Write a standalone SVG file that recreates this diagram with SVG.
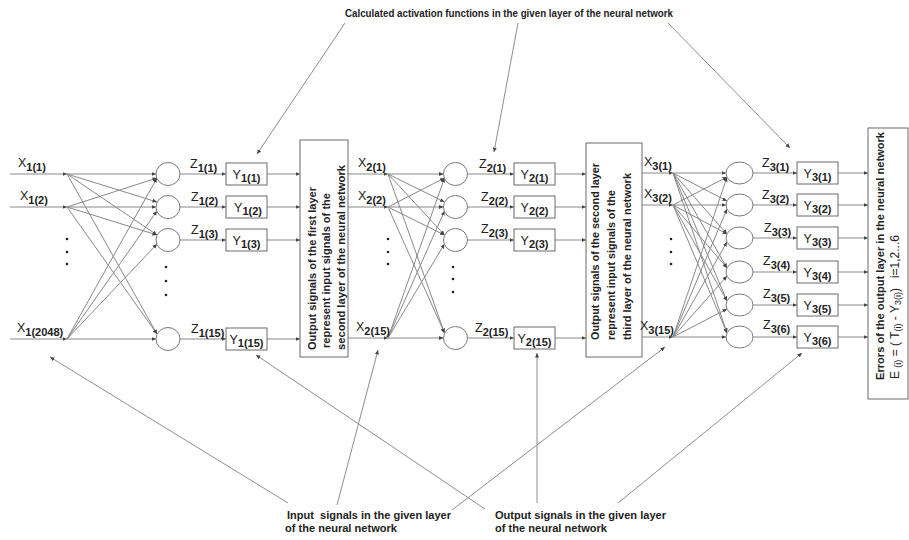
<svg xmlns="http://www.w3.org/2000/svg" width="909" height="540" viewBox="0 0 909 540">
<defs>
<marker id="ah" viewBox="0 0 6 6" refX="6" refY="3" markerWidth="4.5" markerHeight="4.5" orient="auto" markerUnits="userSpaceOnUse"><path d="M0,0.3 L6,3 L0,5.7 z" fill="#444"/></marker>
<style>
.ln{stroke:#888;stroke-width:1;fill:none;marker-end:url(#ah)}
.ld{stroke:#8e8e8e;stroke-width:1;fill:none;marker-end:url(#ah)}
.box{fill:#fff;stroke:#6a6a6a;stroke-width:1}
.nd{fill:#fff;stroke:#7a7a7a;stroke-width:1}
.lbl{font-family:"Liberation Sans",Arial,sans-serif;font-size:12.5px;fill:#222}
.sub{font-size:11px;font-weight:bold}
.ym{text-anchor:middle}
.desc{font-family:"Liberation Sans",Arial,sans-serif;font-size:11px;font-weight:bold;fill:#222}
.ttl{font-family:"Liberation Sans",Arial,sans-serif;font-size:11px;font-weight:bold;fill:#222}
.eq{font-family:"Liberation Sans",Arial,sans-serif;font-size:12px;fill:#222}
.es{font-size:9px}
.dot{fill:#222}
</style>
</defs>
<rect width="909" height="540" fill="#fff"/>

<g id="connectors">
<line class="ln" x1="10" y1="174" x2="67" y2="174"/>
<line class="ln" x1="10" y1="207" x2="67" y2="207"/>
<line class="ln" x1="10" y1="339" x2="67" y2="339"/>
<line class="ln" x1="67" y1="174" x2="156" y2="174"/>
<line class="ln" x1="67" y1="207" x2="156" y2="207"/>
<line class="ln" x1="67" y1="339" x2="156" y2="339"/>
<line class="ln" x1="67" y1="174" x2="157" y2="202"/>
<line class="ln" x1="67" y1="174" x2="157" y2="235"/>
<line class="ln" x1="67" y1="174" x2="157" y2="334"/>
<line class="ln" x1="67" y1="207" x2="157" y2="178"/>
<line class="ln" x1="67" y1="207" x2="157" y2="235"/>
<line class="ln" x1="67" y1="207" x2="157" y2="334"/>
<line class="ln" x1="67" y1="339" x2="157" y2="178"/>
<line class="ln" x1="67" y1="339" x2="157" y2="211"/>
<line class="ln" x1="67" y1="339" x2="157" y2="244"/>
<line class="ln" x1="180" y1="174" x2="226" y2="174"/>
<line class="ln" x1="180" y1="207" x2="226" y2="207"/>
<line class="ln" x1="180" y1="240" x2="226" y2="240"/>
<line class="ln" x1="180" y1="339" x2="226" y2="339"/>
<line class="ln" x1="267" y1="174" x2="300" y2="174"/>
<line class="ln" x1="267" y1="207" x2="300" y2="207"/>
<line class="ln" x1="267" y1="240" x2="300" y2="240"/>
<line class="ln" x1="267" y1="339" x2="300" y2="339"/>
<line class="ln" x1="348" y1="174" x2="388" y2="174"/>
<line class="ln" x1="348" y1="207" x2="388" y2="207"/>
<line class="ln" x1="348" y1="338" x2="388" y2="338"/>
<line class="ln" x1="388" y1="174" x2="443.5" y2="174"/>
<line class="ln" x1="388" y1="207" x2="443.5" y2="207"/>
<line class="ln" x1="388" y1="338" x2="443.5" y2="338"/>
<line class="ln" x1="388" y1="174" x2="444.5" y2="202"/>
<line class="ln" x1="388" y1="174" x2="444.5" y2="235"/>
<line class="ln" x1="388" y1="174" x2="444.5" y2="333"/>
<line class="ln" x1="388" y1="207" x2="444.5" y2="178"/>
<line class="ln" x1="388" y1="207" x2="444.5" y2="235"/>
<line class="ln" x1="388" y1="207" x2="444.5" y2="333"/>
<line class="ln" x1="388" y1="338" x2="444.5" y2="178"/>
<line class="ln" x1="388" y1="338" x2="444.5" y2="211"/>
<line class="ln" x1="388" y1="338" x2="444.5" y2="244"/>
<line class="ln" x1="467.5" y1="174" x2="514" y2="174"/>
<line class="ln" x1="467.5" y1="207" x2="514" y2="207"/>
<line class="ln" x1="467.5" y1="240" x2="514" y2="240"/>
<line class="ln" x1="467.5" y1="338" x2="514" y2="338"/>
<line class="ln" x1="555" y1="174" x2="586" y2="174"/>
<line class="ln" x1="555" y1="207" x2="586" y2="207"/>
<line class="ln" x1="555" y1="240" x2="586" y2="240"/>
<line class="ln" x1="555" y1="338" x2="586" y2="338"/>
<line class="ln" x1="642" y1="173" x2="673" y2="173"/>
<line class="ln" x1="642" y1="205" x2="673" y2="205"/>
<line class="ln" x1="642" y1="337" x2="673" y2="337"/>
<line class="ln" x1="673" y1="173" x2="726" y2="173"/>
<line class="ln" x1="673" y1="205" x2="726" y2="205"/>
<line class="ln" x1="673" y1="337" x2="726" y2="337"/>
<line class="ln" x1="673" y1="173" x2="727" y2="201"/>
<line class="ln" x1="673" y1="173" x2="727" y2="234"/>
<line class="ln" x1="673" y1="173" x2="727" y2="268"/>
<line class="ln" x1="673" y1="173" x2="727" y2="301"/>
<line class="ln" x1="673" y1="173" x2="727" y2="333"/>
<line class="ln" x1="673" y1="205" x2="727" y2="177"/>
<line class="ln" x1="673" y1="205" x2="727" y2="234"/>
<line class="ln" x1="673" y1="205" x2="727" y2="268"/>
<line class="ln" x1="673" y1="205" x2="727" y2="301"/>
<line class="ln" x1="673" y1="205" x2="727" y2="333"/>
<line class="ln" x1="673" y1="337" x2="727" y2="177"/>
<line class="ln" x1="673" y1="337" x2="727" y2="209"/>
<line class="ln" x1="673" y1="337" x2="727" y2="242"/>
<line class="ln" x1="673" y1="337" x2="727" y2="276"/>
<line class="ln" x1="673" y1="337" x2="727" y2="309"/>
<line class="ln" x1="753" y1="173" x2="797" y2="173"/>
<line class="ln" x1="753" y1="205" x2="797" y2="205"/>
<line class="ln" x1="753" y1="238" x2="797" y2="238"/>
<line class="ln" x1="753" y1="272" x2="797" y2="272"/>
<line class="ln" x1="753" y1="305" x2="797" y2="305"/>
<line class="ln" x1="753" y1="337" x2="797" y2="337"/>
<line class="ln" x1="838" y1="173" x2="868" y2="173"/>
<line class="ln" x1="838" y1="205" x2="868" y2="205"/>
<line class="ln" x1="838" y1="238" x2="868" y2="238"/>
<line class="ln" x1="838" y1="272" x2="868" y2="272"/>
<line class="ln" x1="838" y1="305" x2="868" y2="305"/>
<line class="ln" x1="838" y1="337" x2="868" y2="337"/>
<line class="ld" x1="345" y1="23" x2="257" y2="154"/>
<line class="ld" x1="518" y1="23" x2="494" y2="152"/>
<line class="ld" x1="668" y1="23" x2="790" y2="148"/>
<line class="ld" x1="288" y1="503" x2="50" y2="357"/>
<line class="ld" x1="337" y1="505" x2="378" y2="350"/>
<line class="ld" x1="452" y1="510" x2="665" y2="347"/>
<line class="ld" x1="485" y1="509" x2="256" y2="355"/>
<line class="ld" x1="537" y1="503" x2="537" y2="353"/>
<line class="ld" x1="618" y1="503" x2="802" y2="353"/>
</g>

<g id="dots">
<circle class="dot" cx="67" cy="239" r="1.3"/><circle class="dot" cx="67" cy="252" r="1.3"/><circle class="dot" cx="67" cy="264" r="1.3"/>
<circle class="dot" cx="166" cy="267" r="1.3"/><circle class="dot" cx="166" cy="281" r="1.3"/><circle class="dot" cx="166" cy="295" r="1.3"/>
<circle class="dot" cx="388" cy="239" r="1.3"/><circle class="dot" cx="388" cy="252" r="1.3"/><circle class="dot" cx="388" cy="264" r="1.3"/>
<circle class="dot" cx="453" cy="267" r="1.3"/><circle class="dot" cx="453" cy="279" r="1.3"/><circle class="dot" cx="453" cy="292" r="1.3"/>
<circle class="dot" cx="671" cy="239" r="1.3"/><circle class="dot" cx="671" cy="252" r="1.3"/><circle class="dot" cx="671" cy="264" r="1.3"/>
</g>

<g id="x1_1"><text class="lbl" x="18" y="167">X<tspan class="sub" dy="4">1(1)</tspan></text></g>
<g id="x1_2"><text class="lbl" x="20" y="200">X<tspan class="sub" dy="4">1(2)</tspan></text></g>
<g id="x1_2048"><text class="lbl" x="17" y="332">X<tspan class="sub" dy="4">1(2048)</tspan></text></g>

<g id="n1_1"><ellipse class="nd" cx="168" cy="174" rx="12" ry="11.5"/></g>
<g id="n1_2"><ellipse class="nd" cx="168" cy="207" rx="12" ry="11.5"/></g>
<g id="n1_3"><ellipse class="nd" cx="168" cy="240" rx="12" ry="11.5"/></g>
<g id="n1_15"><ellipse class="nd" cx="168" cy="339" rx="12" ry="11.5"/></g>
<g id="z1"><text class="lbl" x="190" y="168">Z<tspan class="sub" dy="4">1(1)</tspan></text>
<text class="lbl" x="191" y="201">Z<tspan class="sub" dy="4">1(2)</tspan></text>
<text class="lbl" x="191" y="234">Z<tspan class="sub" dy="4">1(3)</tspan></text>
<text class="lbl" x="191" y="333">Z<tspan class="sub" dy="4">1(15)</tspan></text></g>
<g id="y1_1"><rect class="box" x="226" y="163" width="41" height="22"/><text class="lbl ym" x="246.5" y="178.5">Y<tspan class="sub" dy="3.5">1(1)</tspan></text></g>
<g id="y1_2"><rect class="box" x="226" y="196" width="41" height="22"/><text class="lbl ym" x="248" y="211.5">Y<tspan class="sub" dy="3.5">1(2)</tspan></text></g>
<g id="y1_3"><rect class="box" x="226" y="229" width="41" height="22"/><text class="lbl ym" x="246.5" y="244.5">Y<tspan class="sub" dy="3.5">1(3)</tspan></text></g>
<g id="y1_15"><rect class="box" x="226" y="328" width="41" height="22"/><text class="lbl ym" x="246.5" y="343.5">Y<tspan class="sub" dy="3.5">1(15)</tspan></text></g>

<g id="rect1"><rect class="box" x="300" y="140" width="48" height="217"/>
<text class="desc" transform="translate(315.5,350) rotate(-90)" textLength="163" lengthAdjust="spacingAndGlyphs">Output signals of the first layer</text>
<text class="desc" transform="translate(330,348) rotate(-90)" textLength="155" lengthAdjust="spacingAndGlyphs">represent input signals of the</text>
<text class="desc" transform="translate(344.5,350) rotate(-90)" textLength="185" lengthAdjust="spacingAndGlyphs">second layer of the neural network</text></g>

<g id="x2"><text class="lbl" x="358" y="167">X<tspan class="sub" dy="4">2(1)</tspan></text>
<text class="lbl" x="358" y="200">X<tspan class="sub" dy="4">2(2)</tspan></text>
<text class="lbl" x="356" y="331">X<tspan class="sub" dy="4">2(15)</tspan></text></g>
<g id="n2_1"><ellipse class="nd" cx="455.5" cy="174" rx="12" ry="11.5"/></g>
<g id="n2_2"><ellipse class="nd" cx="455.5" cy="207" rx="12" ry="11.5"/></g>
<g id="n2_3"><ellipse class="nd" cx="455.5" cy="240" rx="12" ry="11.5"/></g>
<g id="n2_15"><ellipse class="nd" cx="455.5" cy="338" rx="12" ry="11.5"/></g>
<g id="z2"><text class="lbl" x="479" y="168">Z<tspan class="sub" dy="4">2(1)</tspan></text>
<text class="lbl" x="481" y="201">Z<tspan class="sub" dy="4">2(2)</tspan></text>
<text class="lbl" x="481" y="233">Z<tspan class="sub" dy="4">2(3)</tspan></text>
<text class="lbl" x="475" y="332">Z<tspan class="sub" dy="4">2(15)</tspan></text></g>
<g id="y2_1"><rect class="box" x="514" y="163" width="41" height="22"/><text class="lbl ym" x="534.5" y="178.5">Y<tspan class="sub" dy="3.5">2(1)</tspan></text></g>
<g id="y2_2"><rect class="box" x="514" y="196" width="41" height="22"/><text class="lbl ym" x="534.5" y="211.5">Y<tspan class="sub" dy="3.5">2(2)</tspan></text></g>
<g id="y2_3"><rect class="box" x="514" y="229" width="41" height="22"/><text class="lbl ym" x="534.5" y="244.5">Y<tspan class="sub" dy="3.5">2(3)</tspan></text></g>
<g id="y2_15"><rect class="box" x="514" y="327" width="41" height="22"/><text class="lbl ym" x="534.5" y="342.5">Y<tspan class="sub" dy="3.5">2(15)</tspan></text></g>

<g id="rect2"><rect class="box" x="586" y="143" width="56" height="214"/>
<text class="desc" transform="translate(599,340) rotate(-90)" textLength="177" lengthAdjust="spacingAndGlyphs">Output signals of the second layer</text>
<text class="desc" transform="translate(615,340) rotate(-90)" textLength="150" lengthAdjust="spacingAndGlyphs">represent input signals of the</text>
<text class="desc" transform="translate(630.5,340) rotate(-90)" textLength="167" lengthAdjust="spacingAndGlyphs">third layer of the neural network</text></g>

<g id="x3"><text class="lbl" x="644" y="166">X<tspan class="sub" dy="4">3(1)</tspan></text>
<text class="lbl" x="644" y="198">X<tspan class="sub" dy="4">3(2)</tspan></text>
<text class="lbl" x="640" y="330">X<tspan class="sub" dy="4">3(15)</tspan></text></g>
<g id="n3_1"><ellipse class="nd" cx="739.5" cy="173" rx="13.5" ry="11"/></g>
<g id="n3_2"><ellipse class="nd" cx="739.5" cy="205" rx="13.5" ry="11"/></g>
<g id="n3_3"><ellipse class="nd" cx="739.5" cy="238" rx="13.5" ry="11"/></g>
<g id="n3_4"><ellipse class="nd" cx="739.5" cy="272" rx="13.5" ry="11"/></g>
<g id="n3_5"><ellipse class="nd" cx="739.5" cy="305" rx="13.5" ry="11"/></g>
<g id="n3_6"><ellipse class="nd" cx="739.5" cy="337" rx="13.5" ry="11"/></g>
<g id="z3"><text class="lbl" x="762" y="167">Z<tspan class="sub" dy="4">3(1)</tspan></text>
<text class="lbl" x="762" y="199">Z<tspan class="sub" dy="4">3(2)</tspan></text>
<text class="lbl" x="764" y="232">Z<tspan class="sub" dy="4">3(3)</tspan></text>
<text class="lbl" x="763" y="265">Z<tspan class="sub" dy="4">3(4)</tspan></text>
<text class="lbl" x="763" y="298">Z<tspan class="sub" dy="4">3(5)</tspan></text>
<text class="lbl" x="763" y="329">Z<tspan class="sub" dy="4">3(6)</tspan></text></g>
<g id="y3_1"><rect class="box" x="797" y="162" width="41" height="22"/><text class="lbl ym" x="817.5" y="177.5">Y<tspan class="sub" dy="3.5">3(1)</tspan></text></g>
<g id="y3_2"><rect class="box" x="797" y="194" width="41" height="22"/><text class="lbl ym" x="817.5" y="209.5">Y<tspan class="sub" dy="3.5">3(2)</tspan></text></g>
<g id="y3_3"><rect class="box" x="797" y="227" width="41" height="22"/><text class="lbl ym" x="817.5" y="242.5">Y<tspan class="sub" dy="3.5">3(3)</tspan></text></g>
<g id="y3_4"><rect class="box" x="797" y="261" width="41" height="22"/><text class="lbl ym" x="817.5" y="276.5">Y<tspan class="sub" dy="3.5">3(4)</tspan></text></g>
<g id="y3_5"><rect class="box" x="797" y="294" width="41" height="22"/><text class="lbl ym" x="817.5" y="309.5">Y<tspan class="sub" dy="3.5">3(5)</tspan></text></g>
<g id="y3_6"><rect class="box" x="797" y="326" width="41" height="22"/><text class="lbl ym" x="817.5" y="341.5">Y<tspan class="sub" dy="3.5">3(6)</tspan></text></g>

<g id="errors"><rect class="box" x="868" y="128" width="40" height="271"/>
<text class="desc" transform="translate(883.5,380) rotate(-90)" textLength="248" lengthAdjust="spacingAndGlyphs">Errors of the output layer in the neural network</text>
<text class="eq" transform="translate(899,379) rotate(-90)" xml:space="preserve">E <tspan class="es" dy="2">(i)</tspan><tspan dy="-2"> = ( T</tspan><tspan class="es" dy="2">(i)</tspan><tspan dy="-2"> - Y</tspan><tspan class="es" dy="2">3(i)</tspan><tspan dy="-2">)   i=1,2...6</tspan></text></g>

<g id="annotations">
<text class="ttl" x="345" y="17" textLength="328" lengthAdjust="spacingAndGlyphs">Calculated activation functions in the given layer of the neural network</text>
<text class="desc" x="287" y="519" textLength="164" lengthAdjust="spacingAndGlyphs" xml:space="preserve">Input  signals in the given layer</text>
<text class="desc" x="285" y="532" textLength="112" lengthAdjust="spacingAndGlyphs">of the neural network</text>
<text class="desc" x="495" y="519" textLength="171" lengthAdjust="spacingAndGlyphs">Output signals in the given layer</text>
<text class="desc" x="495" y="532" textLength="112" lengthAdjust="spacingAndGlyphs">of the neural network</text>
</g>
</svg>
